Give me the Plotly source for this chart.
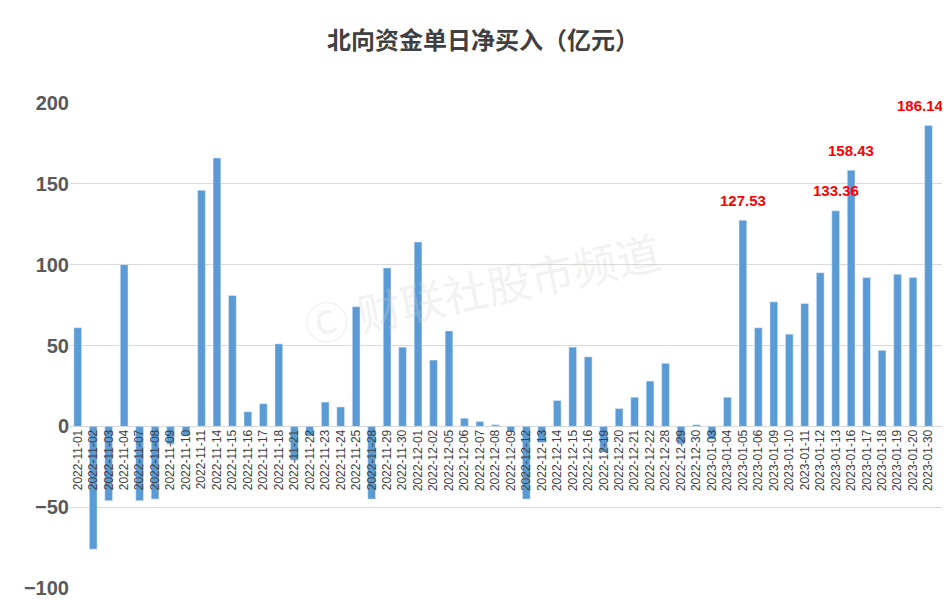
import plotly.graph_objects as go

dates = ["2022-11-01", "2022-11-02", "2022-11-03", "2022-11-04", "2022-11-07", "2022-11-08",
         "2022-11-09", "2022-11-10", "2022-11-11", "2022-11-14", "2022-11-15", "2022-11-16",
         "2022-11-17", "2022-11-18", "2022-11-21", "2022-11-22", "2022-11-23", "2022-11-24",
         "2022-11-25", "2022-11-28", "2022-11-29", "2022-11-30", "2022-12-01", "2022-12-02",
         "2022-12-05", "2022-12-06", "2022-12-07", "2022-12-08", "2022-12-09", "2022-12-12",
         "2022-12-13", "2022-12-14", "2022-12-15", "2022-12-16", "2022-12-19", "2022-12-20",
         "2022-12-21", "2022-12-22", "2022-12-28", "2022-12-29", "2022-12-30", "2023-01-03",
         "2023-01-04", "2023-01-05", "2023-01-06", "2023-01-09", "2023-01-10", "2023-01-11",
         "2023-01-12", "2023-01-13", "2023-01-16", "2023-01-17", "2023-01-18", "2023-01-19",
         "2023-01-20", "2023-01-30"]
values = [61, -76, -46, 100, -46, -45,
          -11, -6, 146, 166, 81, 9,
          14, 51, -21, -6, 15, 12,
          74, -45, 98, 49, 114, 41,
          59, 5, 3, 1, -3, -45,
          -10, 16, 49, 43, -16, 11,
          18, 28, 39, -11, 1, -8,
          18, 127.53, 61, 77, 57, 76,
          95, 133.36, 158.43, 92, 47, 94,
          92, 186.14]
highlight = ["2023-01-05", "2023-01-13", "2023-01-16", "2023-01-30"]

fig = go.Figure()
fig.add_trace(go.Bar(x=dates, y=values, marker_color="#5b9bd5"))

for d in highlight:
    v = values[dates.index(d)]
    fig.add_annotation(x=d, y=v, text=f"<b>{v:.2f}</b>", showarrow=False, yshift=20,
                       xshift=-8 if d == dates[-1] else 0,
                       font=dict(color="#ff0000", size=15, family="Liberation Sans"))

fig.add_annotation(x=0.47, y=0.62, xref="paper", yref="paper", text="Ⓒ 财联社股市频道",
                   showarrow=False, textangle=-12,
                   font=dict(size=44, color="rgba(210,210,210,0.3)", family="Noto Sans CJK SC"))

fig.update_layout(
    width=950, height=600,
    title=dict(text="<b>北向资金单日净买入（亿元）</b>", x=0.5, y=0.96,
               font=dict(size=24, color="#404040", family="Noto Sans CJK SC")),
    margin=dict(l=62, r=12, t=95, b=20),
    plot_bgcolor="white", paper_bgcolor="white",
    bargap=0.5, showlegend=False,
    xaxis=dict(type="category", tickangle=-90, anchor="free", position=1/3,
               tickfont=dict(size=12, color="#404040", family="Liberation Sans"),
               showgrid=False, ticks=""),
    yaxis=dict(range=[-100, 200], dtick=50, gridcolor="#d9d9d9", zeroline=True,
               zerolinecolor="#d9d9d9", zerolinewidth=1, automargin=False,
               tickfont=dict(size=20, color="#595959", family="Liberation Sans")),
)
fig.update_yaxes(tickprefix="<b>", ticksuffix="</b>")
fig.write_html("out.html")
